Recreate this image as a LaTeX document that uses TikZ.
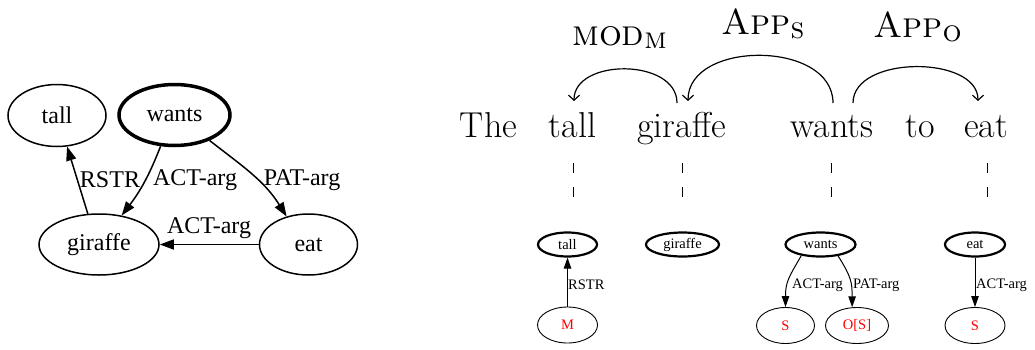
\documentclass[tikz,border=0pt]{standalone}
\usepackage{fontspec}
\newfontfamily\gvfont{Liberation Serif}
\usetikzlibrary{arrows.meta}
\usetikzlibrary{shapes.geometric}

\begin{document}
\begin{tikzpicture}
[x=1pt,y=1pt,%
  every node/.style={inner sep=0pt},%
  gv/.style={shape=ellipse,draw,line width=1.5pt,font=\gvfont\fontsize{24}{24}\selectfont},%
  gvlbl/.style={font=\gvfont\fontsize{24}{24}\selectfont},%
  sm/.style={shape=ellipse,draw,line width=2.2pt,minimum height=24pt,font=\gvfont\fontsize{14.5}{14.5}\selectfont},%
  smred/.style={shape=ellipse,draw,line width=0.9pt,minimum height=36pt,font=\gvfont\fontsize{14.5}{14.5}\selectfont,text=red},%
  smlbl/.style={anchor=west,font=\gvfont\fontsize{14.5}{14.5}\selectfont},%
  word/.style={anchor=base,font=\fontsize{36}{36}\selectfont},%
  deplbl/.style={anchor=base west,font=\fontsize{36}{36}\selectfont},%
  dep/.style={line width=1.2pt,-{Straight Barb[length=5pt,width=11pt]}},%
  gap/.style={line width=1pt,dash pattern=on 10pt off 14pt},%
  big/.style={line width=1.5pt,-{Triangle[length=14pt,width=10pt]}},%
  small/.style={line width=1pt,-{Triangle[length=11pt,width=7.5pt]}}]
\useasboundingbox (0,0) rectangle (1035,349);
\node[gv,minimum width=98pt,minimum height=62pt] (tall) at (57,233.5) {tall};
\node[gv,line width=3.5pt,minimum width=111pt,minimum height=61pt] (wants) at (174.5,234) {wants};
\node[gv,minimum width=120pt,minimum height=61pt] (giraffe) at (99,104.5) {giraffe};
\node[gv,minimum width=98pt,minimum height=61pt] (eat) at (308.5,104.5) {eat};
\draw[big] (giraffe.110) -- (tall.288);
\draw[big] (wants.246) to[bend left=8] (giraffe.52);
\draw[big] (wants.324) to[out=-38,in=122] (eat.128);
\draw[big] (eat) -- (giraffe);
\node[gvlbl] (lRstr) at (110,169) {RSTR};
\node[gvlbl] (lAct) at (195,169) {ACT-arg};
\node[gvlbl] (lPat) at (302,169) {PAT-arg};
\node[gvlbl] (lActEat) at (209,121) {ACT-arg};
\node[word] (wThe) at (488.5,212) {The};
\node[word] (wTall) at (572.5,212) {tall};
\node[word] (wGiraffe) at (681.5,212) {giraffe};
\node[word] (wWants) at (832,212) {wants};
\node[word] (wTo) at (920,212) {to};
\node[word] (wEat) at (986,212) {eat};
\coordinate (modA) at (677,246);
\coordinate (modB) at (574,248);
\coordinate (appsA) at (833,246);
\coordinate (appsB) at (688,248);
\coordinate (appoA) at (853,246);
\coordinate (appoB) at (978,248);
\draw[dep] (modA) .. controls (677,291) and (574,291) .. (modB);
\draw[dep] (appsA) .. controls (833,309) and (688,309) .. (appsB);
\draw[dep] (appoA) .. controls (853,294) and (978,294) .. (appoB);
\node[deplbl] (lMod) at (572,304)
  {\textsc{mod}\raisebox{-3pt}{\fontsize{30}{30}\selectfont\textsc{m}}};
\node[deplbl] (lApps) at (721,314)
  {\textsc{App}\raisebox{-4pt}{\fontsize{30}{30}\selectfont\textsc{s}}};
\node[deplbl] (lAppo) at (873,312)
  {\textsc{App}\raisebox{-4pt}{\fontsize{30}{30}\selectfont\textsc{o}}};
\foreach \x/\n in {573/tall,682/giraffe,831/wants,987/eat}
  {\coordinate (gap\n a) at (\x,186);
   \coordinate (gap\n b) at (\x,152);
   \draw[gap] (gap\n a) -- (gap\n b);}
\node[sm,minimum width=59pt] (sTall) at (567.5,104.5) {tall};
\node[sm,minimum width=73pt] (sGiraffe) at (682.5,104.5) {giraffe};
\node[sm,minimum width=70pt] (sWants) at (820.5,104.5) {wants};
\node[sm,minimum width=60pt] (sEat) at (975,104.5) {eat};
\node[smred,minimum width=60pt] (sM) at (567.5,24) {M};
\node[smred,minimum width=58pt] (sS) at (785.5,23.5) {S};
\node[smred,minimum width=63pt] (sOS) at (857,23.5) {O[S]};
\node[smred,minimum width=60pt] (sSEat) at (975,23.5) {S};
\draw[small] (sM) -- (sTall);
\draw[small] (sWants.210) to[out=240,in=90,looseness=1.2] (sS.north);
\draw[small] (sWants.327) to[out=-58,in=90,looseness=1.2] (sOS.105);
\draw[small] (sEat) -- (sSEat);
\node[smlbl] (lRstrM) at (568,64) {RSTR};
\node[smlbl] (lActS) at (792,64) {ACT-arg};
\node[smlbl] (lPatOS) at (853,64) {PAT-arg};
\node[smlbl] (lActSEat) at (976,64) {ACT-arg};
\end{tikzpicture}
\end{document}
